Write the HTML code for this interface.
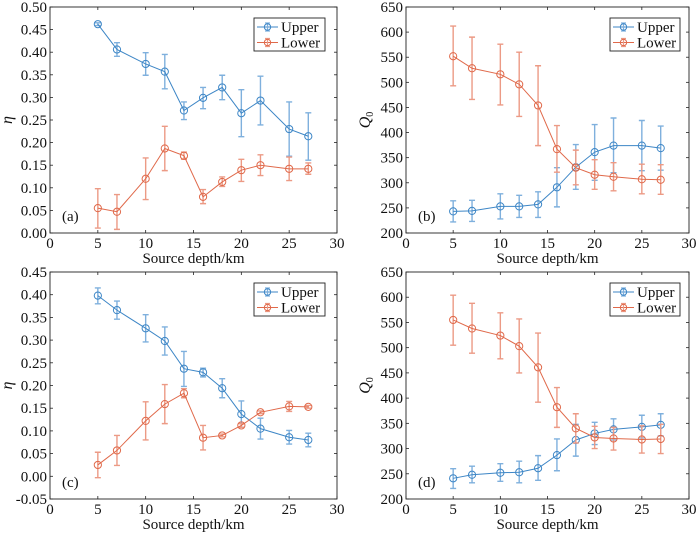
<!DOCTYPE html>
<html><head><meta charset="utf-8"><style>
html,body{margin:0;padding:0;background:#fff;}
text,tspan{font-family:'Liberation Serif',serif !important;}
</style></head><body>
<svg id="fig" width="700" height="533" viewBox="0 0 700 533" xmlns="http://www.w3.org/2000/svg"></svg>
<script>
const depths=[5,7,10,12,14,16,18,20,22,25,27];
const aUpper=[0.462,0.406,0.374,0.357,0.271,0.299,0.322,0.265,0.293,0.230,0.214];
const aUpperLo=[0.459,0.391,0.349,0.319,0.251,0.275,0.295,0.213,0.239,0.170,0.161];
const aUpperHi=[0.465,0.421,0.399,0.395,0.290,0.322,0.349,0.317,0.347,0.290,0.266];
const aLower=[0.055,0.047,0.120,0.187,0.171,0.080,0.113,0.139,0.150,0.142,0.142];
const aLowerLo=[0.011,0.008,0.074,0.138,0.163,0.065,0.103,0.114,0.127,0.116,0.130];
const aLowerHi=[0.098,0.085,0.166,0.236,0.179,0.096,0.124,0.163,0.173,0.168,0.155];
const bUpper=[243,244,253,253,257,291,331,361,374,374,369];
const bUpperLo=[222,223,228,231,231,252,287,305,320,324,325];
const bUpperHi=[264,265,278,275,282,330,376,416,429,424,413];
const bLower=[552,528,516,496,454,367,330,316,312,307,306];
const bLowerLo=[493,466,455,432,374,321,296,287,284,278,277];
const bLowerHi=[612,590,576,560,533,414,365,346,340,337,336];
const cUpper=[0.398,0.366,0.326,0.298,0.237,0.229,0.194,0.137,0.105,0.086,0.080];
const cUpperLo=[0.380,0.346,0.296,0.267,0.198,0.219,0.173,0.108,0.082,0.071,0.065];
const cUpperHi=[0.415,0.386,0.356,0.329,0.275,0.238,0.215,0.166,0.128,0.101,0.095];
const cLower=[0.025,0.057,0.122,0.159,0.183,0.085,0.090,0.112,0.141,0.154,0.153];
const cLowerLo=[-0.003,0.024,0.080,0.116,0.173,0.058,0.087,0.108,0.138,0.143,0.150];
const cLowerHi=[0.053,0.090,0.164,0.202,0.193,0.112,0.093,0.116,0.144,0.165,0.156];
const dUpper=[241,248,252,253,261,287,317,330,338,343,347];
const dUpperLo=[221,232,235,232,237,256,285,308,317,321,325];
const dUpperHi=[260,265,270,275,286,319,348,352,359,366,369];
const dLower=[555,538,524,503,461,382,340,322,320,318,319];
const dLowerLo=[505,489,478,450,392,342,311,300,297,291,290];
const dLowerHi=[604,588,569,557,529,421,369,344,342,345,348];
const xTicks=[0,5,10,15,20,25,30];
const etaTicksA=["0.00","0.05","0.10","0.15","0.20","0.25","0.30","0.35","0.40","0.45","0.50"];
const etaTicksC=["-0.05","0.00","0.05","0.10","0.15","0.20","0.25","0.30","0.35","0.40","0.45"];
const qTicks=["200","250","300","350","400","450","500","550","600","650"];

const NS="http://www.w3.org/2000/svg";
const svg=document.getElementById('fig');
const BLUE="#3d86c6", ORANGE="#e0694a", BLUE_E="#7fb0dd", ORANGE_E="#ec9a85";
function el(t,a,p){const e=document.createElementNS(NS,t);for(const k in a)e.setAttribute(k,a[k]);if(t==='text'||t==='tspan')e.setAttribute('style',"font-family:'Liberation Serif',serif");(p||svg).appendChild(e);return e;}

function panel(cfg){
  const g=el('g',{});
  
  
  const L=cfg.L,R=cfg.R,T=cfg.T,B=cfg.B;
  const ymin=parseFloat(cfg.yt[0]), ymax=parseFloat(cfg.yt[cfg.yt.length-1]);
  const sx=v=>L+(v-0)/(30-0)*(R-L);
  const sy=v=>B-(v-ymin)/(ymax-ymin)*(B-T);
  xTicks.forEach(v=>{
    const x=sx(v);
    el('line',{x1:x,y1:B,x2:x,y2:B-3,stroke:'#222','stroke-width':0.8},g);
    el('line',{x1:x,y1:T,x2:x,y2:T+3,stroke:'#222','stroke-width':0.8},g);
    const t=el('text',{x:x,y:B+15,'text-anchor':'middle','font-size':15,fill:'#111'},g);
    t.textContent=String(v);
    
    
  });
  cfg.yt.forEach(s=>{
    const y=sy(parseFloat(s));
    el('line',{x1:L,y1:y,x2:L+3,y2:y,stroke:'#222','stroke-width':0.8},g);
    el('line',{x1:R,y1:y,x2:R-3,y2:y,stroke:'#222','stroke-width':0.8},g);
    const t=el('text',{x:L-3,y:y+5,'text-anchor':'end','font-size':15,fill:'#111'},g);
    t.textContent=s;
    
    
  });
  const xl=el('text',{x:(L+R)/2,y:B+30,'text-anchor':'middle','font-size':15,fill:'#111'},g);
  xl.textContent='Source depth/km';
  
  
  const yl=el('text',{x:0,y:0,'text-anchor':'middle','font-size':16,'font-style':'italic',fill:'#111',transform:`translate(${cfg.ylx},${(T+B)/2}) rotate(-90)`},g);
  if(cfg.q){
    const t1=el('tspan',{},yl); t1.textContent='Q';
    const t2=el('tspan',{'font-size':10,dy:3,'font-style':'normal'},yl); t2.textContent='0';
  } else yl.textContent='η';
  
  
  const lab=el('text',{x:L+12,y:B-12,'font-size':15,fill:'#111'},g);
  lab.textContent='('+cfg.id+')';
  
  
  cfg.series.forEach(s=>{
    const sg=el('g',{},g);
    
    
    depths.forEach((d,i)=>{
      const x=sx(d),y1=sy(s.lo[i]),y2=sy(s.hi[i]);
      const eb=el('path',{d:`M${x},${y1}V${y2}M${x-3},${y1}H${x+3}M${x-3},${y2}H${x+3}`,stroke:s.ec,'stroke-width':1.4,fill:'none'},sg);
      
      
    });
    const pts=depths.map((d,i)=>sx(d)+','+sy(s.v[i])).join(' ');
    const pl=el('polyline',{points:pts,fill:'none',stroke:s.c,'stroke-width':1},sg);
    
    
    depths.forEach((d,i)=>{
      const c=el('circle',{cx:sx(d),cy:sy(s.v[i]),r:3.6,fill:'none',stroke:s.c,'stroke-width':1},sg);
      
      
    });
  });
  el('rect',{x:L,y:T,width:R-L,height:B-T,fill:'none',stroke:'#222','stroke-width':0.9},g);
  const lg=el('g',{},g);
  
  
  const lx=cfg.lgx, ly=T+11, lw=cfg.lgw;
  el('rect',{x:lx,y:ly,width:lw,height:33,fill:'#fff',stroke:'#222','stroke-width':0.9},lg);
  cfg.series.forEach((s,k)=>{
    const yy=ly+9+k*15.5;
    const e=el('g',{},lg);
    
    
    el('line',{x1:lx+3,y1:yy,x2:lx+24,y2:yy,stroke:s.c,'stroke-width':1},e);
    el('path',{d:`M${lx+13.5},${yy-4}V${yy+4}M${lx+11},${yy-4}H${lx+16}M${lx+11},${yy+4}H${lx+16}`,stroke:s.ec,'stroke-width':1.2},e);
    el('circle',{cx:lx+13.5,cy:yy,r:3.2,fill:'none',stroke:s.c,'stroke-width':1},e);
    const t=el('text',{x:lx+27,y:yy+5,'font-size':15,fill:'#111'},e);
    t.textContent=s.name;
  });
}
function S(name,v,lo,hi,up){return {name,v,lo,hi,c:up?BLUE:ORANGE,ec:up?BLUE_E:ORANGE_E};}
panel({id:'a',L:50,R:337,T:7,B:233,yt:etaTicksA,ylx:12,lgx:254,lgw:71,
  series:[S('Upper',aUpper,aUpperLo,aUpperHi,1),S('Lower',aLower,aLowerLo,aLowerHi,0)]});
panel({id:'b',L:406,R:689,T:7,B:233,yt:qTicks,q:1,ylx:370,lgx:610,lgw:70,
  series:[S('Upper',bUpper,bUpperLo,bUpperHi,1),S('Lower',bLower,bLowerLo,bLowerHi,0)]});
panel({id:'c',L:50,R:337,T:272,B:499,yt:etaTicksC,ylx:12,lgx:254,lgw:71,
  series:[S('Upper',cUpper,cUpperLo,cUpperHi,1),S('Lower',cLower,cLowerLo,cLowerHi,0)]});
panel({id:'d',L:406,R:689,T:272,B:499,yt:qTicks,q:1,ylx:370,lgx:610,lgw:70,
  series:[S('Upper',dUpper,dUpperLo,dUpperHi,1),S('Lower',dLower,dLowerLo,dLowerHi,0)]});
</script>
</body></html>
